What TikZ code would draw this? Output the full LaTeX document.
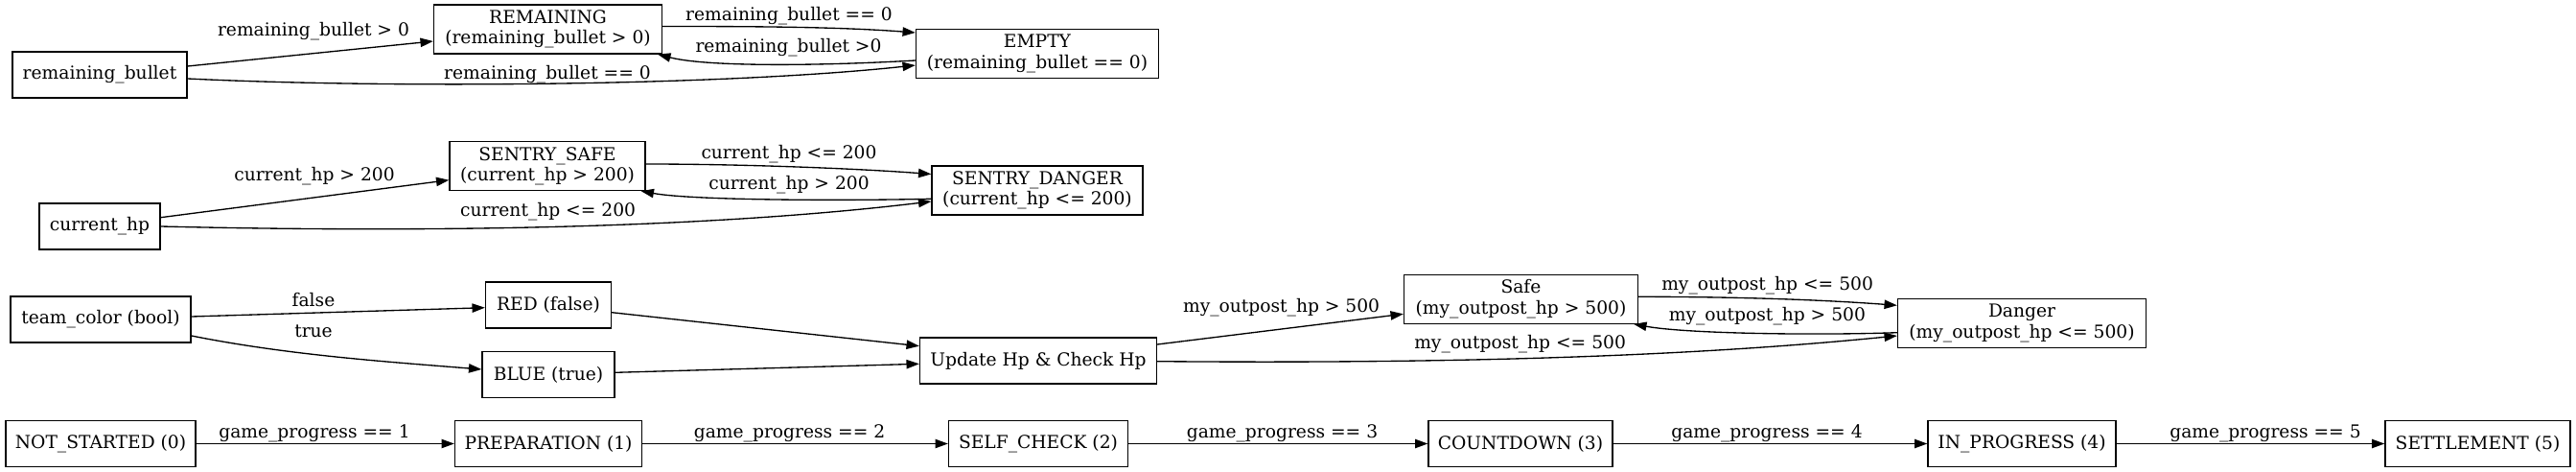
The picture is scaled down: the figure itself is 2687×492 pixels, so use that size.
\documentclass[tikz,border=0pt]{standalone}
\usepackage{fontspec}
\setmainfont{DejaVu Serif}
\usetikzlibrary{arrows.meta,calc}
\begin{document}
\begin{tikzpicture}[x=0.75pt,y=-0.75pt,
  box/.style={draw=black,line width=1pt,inner sep=0pt,align=center,font=\fontsize{14pt}{16pt}\selectfont},
  sbox/.style={box,minimum height=36pt},
  dbox/.style={box,minimum height=38.25pt},
  lbl/.style={inner sep=0pt,font=\fontsize{14pt}{16pt}\selectfont},
  conn/.style={line width=1pt,-{Triangle[length=10pt,width=7pt]}}]
\useasboundingbox (0,0) rectangle (2687,492);
% nodes
\node[sbox,minimum width=136.5pt] (rb) at (104,78) {remaining\_bullet};
\node[dbox,minimum width=178.5pt] (rem) at (571.5,30.5) {REMAINING\\(remaining\_bullet > 0)};
\node[dbox,minimum width=189.75pt] (empty) at (1082,56) {EMPTY\\(remaining\_bullet == 0)};
\node[sbox,minimum width=94.5pt] (hp) at (104,236) {current\_hp};
\node[dbox,minimum width=153pt] (ss) at (571,173) {SENTRY\_SAFE\\(current\_hp > 200)};
\node[dbox,minimum width=165pt] (sd) at (1082,198.5) {SENTRY\_DANGER\\(current\_hp <= 200)};
\node[sbox,minimum width=141pt] (tc) at (105,333) {team\_color (bool)};
\node[sbox,minimum width=98.25pt] (red) at (572,318) {RED (false)};
\node[sbox,minimum width=103.5pt] (blue) at (572,390.5) {BLUE (true)};
\node[sbox,minimum width=185.25pt] (upd) at (1083,376) {Update Hp \& Check Hp};
\node[dbox,minimum width=183pt] (safe) at (1586.5,311.7) {Safe\\(my\_outpost\_hp > 500)};
\node[dbox,minimum width=194.25pt] (danger) at (2109,337) {Danger\\(my\_outpost\_hp <= 500)};
\node[sbox,minimum width=148.5pt] (g0) at (105,462.5) {NOT\_STARTED (0)};
\node[sbox,minimum width=146.25pt] (g1) at (572,462.5) {PREPARATION (1)};
\node[sbox,minimum width=140.25pt] (g2) at (1083,462.5) {SELF\_CHECK (2)};
\node[sbox,minimum width=144pt] (g3) at (1586,462.5) {COUNTDOWN (3)};
\node[sbox,minimum width=147pt] (g4) at (2109,462.5) {IN\_PROGRESS (4)};
\node[sbox,minimum width=144.75pt] (g5) at (2584.5,462.5) {SETTLEMENT (5)};
% row 1 edges
\draw[conn] ($(rb.east)+(0,-9)$) -- ($(rem.west)+(0,12.5)$);
\draw[conn] ($(rem.east)+(0,-3)$) .. controls +(100,0) and +(-80,-6) .. ($(empty.west)+(0,-22)$);
\draw[conn] ($(empty.west)+(0,7)$) .. controls +(-85,5) and +(55,14) .. ($(rem.south east)+(-5,0)$);
\draw[conn] ($(rb.east)+(0,4)$) .. controls +(205,10) and +(-205,22) .. ($(empty.west)+(0,12)$);
% row 2 edges
\draw[conn] ($(hp.east)+(0,-9.3)$) -- ($(ss.west)+(0,14.7)$);
\draw[conn] ($(ss.east)+(0,-2)$) .. controls +(100,0) and +(-80,-6) .. ($(sd.west)+(0,-17)$);
\draw[conn] ($(sd.west)+(0,8.8)$) .. controls +(-85,2) and +(55,10) .. ($(ss.south east)+(-5,0)$);
\draw[conn] (hp.east) .. controls +(250,6) and +(-250,30) .. ($(sd.west)+(0,11.5)$);
% row 3 edges
\draw[conn] ($(tc.east)+(0,-3)$) -- ($(red.west)+(0,2.7)$);
\draw[conn] ($(tc.east)+(0,17)$) .. controls +(100,20) and +(-100,-8) .. ($(blue.west)+(0,-5.5)$);
\draw[conn] ($(red.east)+(0,7.7)$) -- ($(upd.west)+(0,-15.3)$);
\draw[conn] ($(blue.east)+(0,-2.2)$) -- ($(upd.west)+(0,3.3)$);
\draw[conn] ($(upd.east)+(0,-17)$) -- ($(safe.west)+(0,15.6)$);
\draw[conn] ($(safe.east)+(0,-2.4)$) .. controls +(100,0) and +(-80,-6) .. ($(danger.west)+(0,-18.7)$);
\draw[conn] ($(danger.west)+(0,9.7)$) .. controls +(-85,3) and +(55,10) .. ($(safe.south east)+(-5,0)$);
\draw[conn] ($(upd.east)+(0,0.7)$) .. controls +(250,2) and +(-250,25) .. ($(danger.west)+(0,13)$);
% row 4 edges
\draw[conn] (g0) -- (g1);
\draw[conn] (g1) -- (g2);
\draw[conn] (g2) -- (g3);
\draw[conn] (g3) -- (g4);
\draw[conn] (g4) -- (g5);
% labels
\node[lbl] (l1) at (327,33) {remaining\_bullet > 0};
\node[lbl] (l2) at (823,16.7) {remaining\_bullet == 0};
\node[lbl] (l3) at (822.5,49.3) {remaining\_bullet >0};
\node[lbl] (l4) at (571,77.3) {remaining\_bullet == 0};
\node[lbl] (l5) at (328,183.3) {current\_hp > 200};
\node[lbl] (l6) at (823,160.7) {current\_hp <= 200};
\node[lbl] (l7) at (823,192.7) {current\_hp > 200};
\node[lbl] (l8) at (571.6,220.7) {current\_hp <= 200};
\node[lbl] (l9) at (327,312.3) {false};
\node[lbl] (l10) at (327,345) {true};
\node[lbl] (l11) at (1336.6,321) {my\_outpost\_hp > 500};
\node[lbl] (l12) at (1843.6,297.7) {my\_outpost\_hp <= 500};
\node[lbl] (l13) at (1843.4,330) {my\_outpost\_hp > 500};
\node[lbl] (l14) at (1585.6,358.3) {my\_outpost\_hp <= 500};
\node[lbl] (l15) at (328,452) {game\_progress == 1};
\node[lbl] (l16) at (823.6,452) {game\_progress == 2};
\node[lbl] (l17) at (1337.5,452) {game\_progress == 3};
\node[lbl] (l18) at (1843,452) {game\_progress == 4};
\node[lbl] (l19) at (2363,452) {game\_progress == 5};
\end{tikzpicture}
\end{document}
